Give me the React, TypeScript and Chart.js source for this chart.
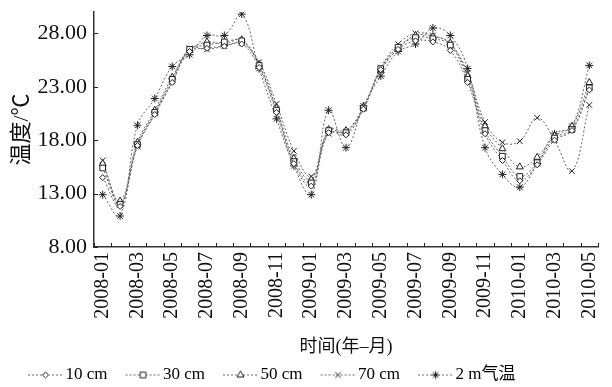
import React, { useEffect, useRef } from 'react';
import { Chart, registerables } from 'chart.js';
import { drawPoint } from 'chart.js/helpers';

Chart.register(...registerables);

const months = [
  '2008-01', '2008-02', '2008-03', '2008-04', '2008-05', '2008-06', '2008-07', '2008-08', '2008-09', '2008-10', '2008-11', '2008-12',
  '2009-01', '2009-02', '2009-03', '2009-04', '2009-05', '2009-06', '2009-07', '2009-08', '2009-09', '2009-10', '2009-11', '2009-12',
  '2010-01', '2010-02', '2010-03', '2010-04', '2010-05',
];

const yTicks = [8, 13, 18, 23, 28];

const seriesNames = ['10 cm', '30 cm', '50 cm', '70 cm', '2 m气温'];

const depth10 = [14.5, 11.8, 17.5, 20.4, 23.4, 26.3, 26.6, 26.8, 27.0, 24.8, 20.6, 15.8, 13.7, 18.7, 18.5, 20.9, 24.6, 26.5, 27.3, 27.2, 26.4, 23.4, 18.6, 16.1, 14.2, 15.7, 18.0, 18.9, 22.7];
const depth30 = [15.4, 12.0, 17.6, 20.6, 23.7, 26.5, 26.9, 27.2, 27.3, 25.0, 20.8, 16.0, 14.0, 18.9, 18.7, 21.0, 24.7, 26.7, 27.6, 27.5, 26.9, 23.7, 18.9, 16.5, 14.6, 15.9, 18.2, 19.0, 22.9];
const depth50 = [15.8, 12.3, 17.8, 20.8, 23.9, 26.4, 27.2, 27.0, 27.4, 25.1, 21.0, 16.3, 14.3, 19.0, 18.9, 21.1, 24.5, 26.6, 27.8, 27.7, 27.1, 24.0, 19.3, 17.2, 15.5, 16.4, 18.4, 19.3, 23.4];
const depth70 = [16.1, 12.0, 17.4, 20.5, 23.5, 26.6, 26.5, 26.8, 27.1, 25.3, 21.4, 17.0, 14.6, 18.6, 18.8, 21.0, 24.8, 27.0, 28.0, 27.8, 27.0, 24.3, 19.7, 17.8, 17.9, 20.1, 18.0, 15.1, 21.3];
const air2m = [12.9, 10.9, 19.4, 21.9, 24.9, 26.0, 27.8, 27.8, 29.8, 24.7, 20.0, 15.6, 12.9, 20.8, 17.3, 21.2, 24.0, 26.3, 27.0, 28.5, 27.8, 24.7, 17.3, 14.8, 13.6, 15.8, 18.6, 19.3, 25.0];

const seriesData = [depth10, depth30, depth50, depth70, air2m];
const markerStyles = ['rectRot', 'rect', 'triangle', 'crossRot', 'star'];
const markerRadius = [3, 4, 4, 4, 4];

const LINE_COLOR = '#666';
const MARK_COLOR = '#222';
const SERIF = "'Liberation Serif', 'Noto Sans CJK SC', serif";

function legendImage(style: string, radius: number) {
  const c = document.createElement('canvas');
  c.width = 47;
  c.height = 16;
  const ctx = c.getContext('2d') as CanvasRenderingContext2D;
  ctx.strokeStyle = LINE_COLOR;
  ctx.lineWidth = 1;
  ctx.setLineDash([2, 2]);
  ctx.beginPath();
  ctx.moveTo(12, 8.5);
  ctx.lineTo(47, 8.5);
  ctx.stroke();
  ctx.setLineDash([]);
  ctx.fillStyle = '#fff';
  ctx.strokeStyle = MARK_COLOR;
  ctx.lineWidth = 1;
  drawPoint(ctx, { pointStyle: style as any, radius, borderWidth: 1, rotation: 0 }, 29.5, 8.5);
  return c;
}

const innerTicks = {
  id: 'innerTicks',
  afterDatasetsDraw(chart: any) {
    const { ctx, chartArea, scales } = chart;
    const x = scales.x;
    const y = scales.y;
    const half = (x.getPixelForValue(1) - x.getPixelForValue(0)) / 2;
    ctx.save();
    ctx.strokeStyle = '#222';
    ctx.lineWidth = 1;
    ctx.beginPath();
    for (let i = 0; i <= months.length; i++) {
      const px = Math.round(x.getPixelForValue(i) - half) + 0.5;
      ctx.moveTo(px, chartArea.bottom);
      ctx.lineTo(px, chartArea.bottom - 4);
    }
    yTicks.forEach((v) => {
      const py = Math.round(y.getPixelForValue(v)) + 0.5;
      ctx.moveTo(chartArea.left, py);
      ctx.lineTo(chartArea.left + 4, py);
    });
    ctx.stroke();
    ctx.restore();
  },
};

const legendFix = {
  id: 'legendFix',
  beforeLayout(chart: any) {
    const lg = chart.legend;
    if (lg && !lg.__fixed) {
      const orig = lg.fit;
      lg.fit = function (this: any) {
        orig.call(this);
        this.height = 32;
      };
      lg.__fixed = true;
    }
  },
  afterLayout(chart: any) {
    const lg = chart.legend;
    if (lg) {
      const dx = 10 - lg.left;
      lg.left += dx;
      lg.right += dx;
      lg.top -= 1;
      lg.bottom -= 1;
    }
  },
};

export default function App() {
  const ref = useRef<HTMLCanvasElement | null>(null);

  useEffect(() => {
    document.body.style.margin = '0';
    const canvas = ref.current;
    if (!canvas) return;
    const imgs = markerStyles.map((s, i) => legendImage(s, markerRadius[i]));

    const chart = new Chart(canvas, {
      type: 'line',
      data: {
        labels: months,
        datasets: seriesNames.map((name, i) => ({
          label: name,
          data: seriesData[i],
          borderColor: LINE_COLOR,
          borderWidth: 1,
          borderDash: [2, 2],
          tension: 0.4,
          fill: false,
          pointStyle: markerStyles[i] as any,
          pointRadius: markerRadius[i],
          pointBorderColor: MARK_COLOR,
          pointBackgroundColor: '#fff',
          pointBorderWidth: 1,
        })),
      },
      options: {
        animation: false,
        responsive: false,
        devicePixelRatio: 1,
        layout: { padding: { top: 12, right: 14, left: 0, bottom: 0 } },
        plugins: {
          tooltip: { enabled: false },
          legend: {
            position: 'bottom',
            align: 'start',
            labels: {
              usePointStyle: true,
              pointStyleWidth: 35,
              boxHeight: 16,
              padding: 12,
              color: '#111',
              font: { family: SERIF, size: 17 },
              generateLabels: () =>
                seriesNames.map((n, i) => ({
                  text: n,
                  pointStyle: imgs[i] as any,
                  fillStyle: '#fff',
                  strokeStyle: MARK_COLOR,
                  lineWidth: 1,
                  hidden: false,
                  datasetIndex: i,
                })),
            },
          },
        },
        scales: {
          x: {
            type: 'category',
            offset: true,
            grid: { display: false, drawTicks: false },
            border: { display: true, color: '#333', width: 1.5 },
            ticks: {
              autoSkip: false,
              maxRotation: 90,
              minRotation: 90,
              padding: 5,
              color: '#111',
              font: { family: SERIF, size: 20 },
              callback: (_v: any, i: number) => (i % 2 === 0 ? months[i] : ''),
            },
            title: {
              display: true,
              text: '时间(年–月)',
              color: '#111',
              font: { family: SERIF, size: 18 },
              padding: { top: 0, bottom: -3 },
            },
            afterFit: (s: any) => {
              s.height = 108;
              s.paddingLeft = 0;
              s.paddingRight = 0;
            },
          },
          y: {
            type: 'linear',
            min: 8,
            max: 30,
            grid: { display: false, drawTicks: false },
            border: { display: true, color: '#333', width: 1.5 },
            afterBuildTicks: (s: any) => {
              s.ticks = yTicks.map((v) => ({ value: v }));
            },
            ticks: {
              padding: 7,
              color: '#111',
              font: { family: SERIF, size: 22 },
              callback: (v: any) => Number(v).toFixed(2),
            },
            title: {
              display: true,
              text: '温度/℃',
              color: '#111',
              font: { family: SERIF, size: 22 },
              padding: { top: 9, bottom: 0 },
            },
            afterFit: (s: any) => {
              s.width = 94;
              s.paddingTop = 0;
              s.paddingBottom = 0;
            },
          },
        },
      },
      plugins: [innerTicks, legendFix],
    });
    return () => chart.destroy();
  }, []);

  return (
    <div style={{ width: 612, height: 387 }}>
      <canvas ref={ref} width={612} height={387} />
    </div>
  );
}
